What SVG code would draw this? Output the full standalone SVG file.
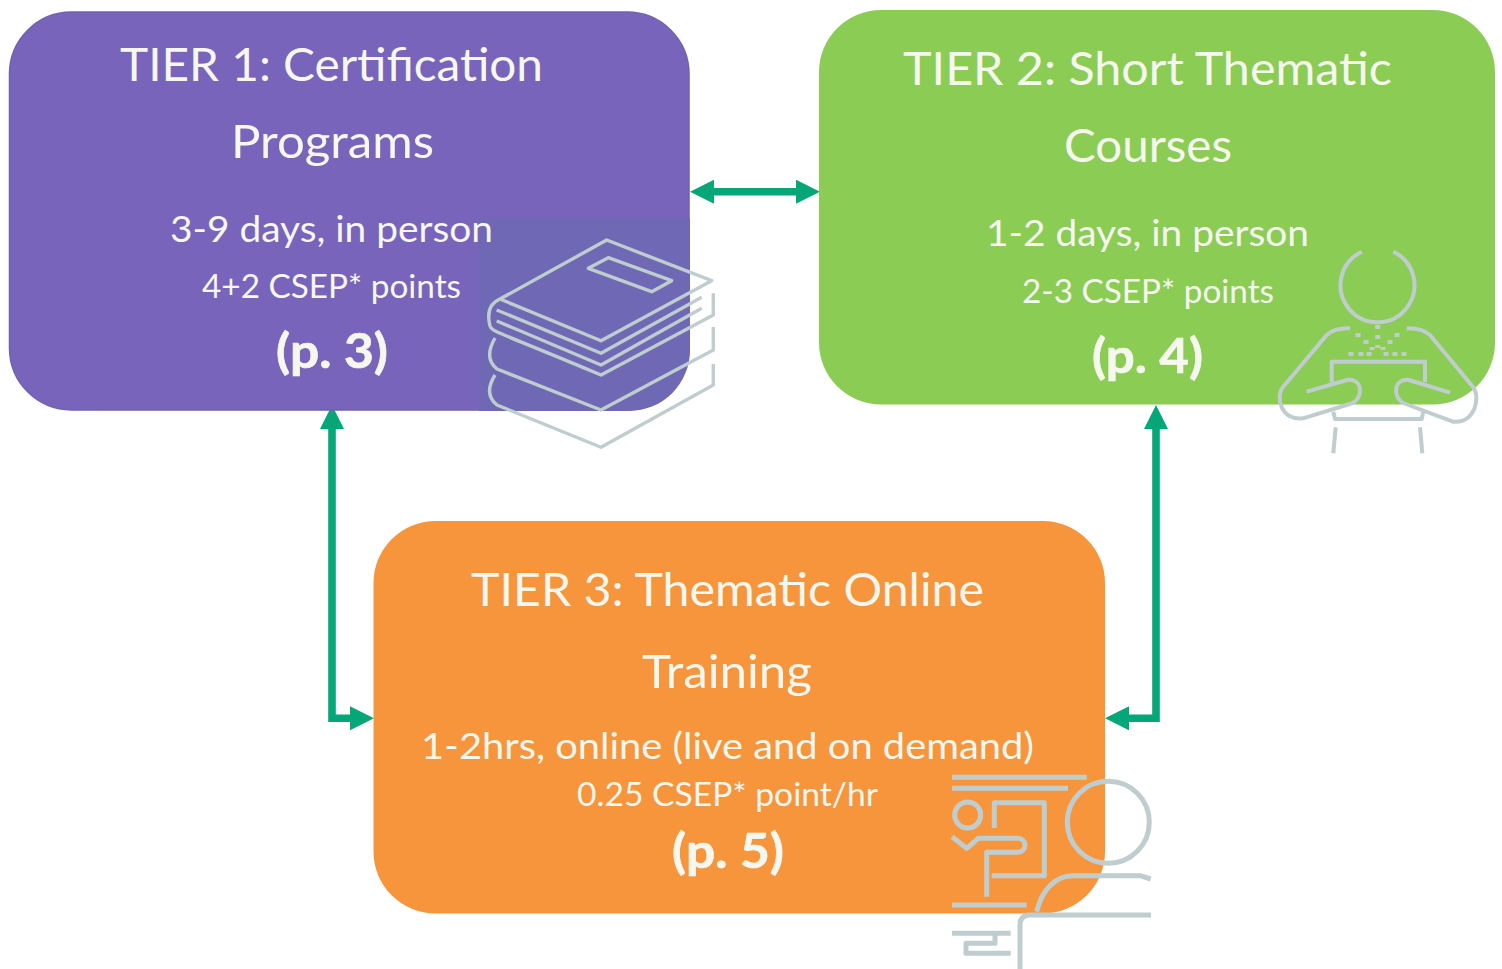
<svg xmlns="http://www.w3.org/2000/svg" width="1502" height="969" viewBox="0 0 1502 969">
<style>
text{font-family:"Lato","Carlito","Open Sans",sans-serif;fill:#F6F7EE}
.t{font-size:47px}.s{font-size:37px}.p{font-size:33px}.b{font-size:48px;font-weight:700;stroke:#F6F7EE;stroke-width:.7px}
.ic{fill:none;stroke:#C0CDCE;stroke-linejoin:round;stroke-linecap:butt}
.c{fill:none;stroke:#05A677;stroke-width:7.6}
</style>
<defs>
<marker id="ah" markerUnits="userSpaceOnUse" markerWidth="24" markerHeight="24" refX="0" refY="12" orient="auto-start-reverse" viewBox="0 0 24 24"><path d="M0 0L24 12L0 24Z" fill="#05A677"/></marker>
</defs>
<g id="connectors">
<path class="c" d="M714 191.700H796" marker-start="url(#ah)" marker-end="url(#ah)"/>
<path class="c" d="M332 429V718.300H350" marker-start="url(#ah)" marker-end="url(#ah)"/>
<path class="c" d="M1156 429V718.300H1129" marker-start="url(#ah)" marker-end="url(#ah)"/>
</g>
<g id="tier1">
<rect x="9.500" y="12" width="679.500" height="398" rx="62" fill="#7864BB" stroke="#7060B0" stroke-width="1.500"/>
<path d="M479 218H690V350A61 61 0 0 1 629 411H479Z" fill="#6F68B5"/>
<g class="ic" stroke-width="3.400">
<path d="M606.700 240L711.700 280.700L601 340.700L500 299Z"/>
<path d="M588.300 268.300L608.300 257.700L671.700 280.700L651.700 291.700Z"/>
<path d="M496.700 310L601 353.300L701.700 297.300M496.700 321L601 365L701.700 308.300"/>
<path d="M500 299C486 305 488 318 490 326C492 332 496 331 601 375L713.300 315V293.300"/>
<path d="M495 338C487 352 488 362 497 369L601 410L713.300 350V327"/>
<path d="M495 375C487 388 488 398 497 405L601 447.300L713.300 385V364"/>
</g>
<text class="t" x="120" y="81" textLength="423" lengthAdjust="spacingAndGlyphs">TIER 1: Certification</text>
<text class="t" x="231" y="158" textLength="203" lengthAdjust="spacingAndGlyphs">Programs</text>
<text class="s" x="170" y="242" textLength="323" lengthAdjust="spacingAndGlyphs">3-9 days, in person</text>
<text class="p" x="202" y="298" textLength="259" lengthAdjust="spacingAndGlyphs">4+2 CSEP* points</text>
<text class="b" x="276" y="368" textLength="112" lengthAdjust="spacingAndGlyphs">(p. 3)</text>
</g>
<g id="tier2">
<rect x="819" y="10" width="676" height="394.500" rx="62" fill="#8BCC55"/>
<g class="ic" stroke-width="4">
<path d="M1361.700 251.700A37 37 0 1 0 1393.300 251.700"/>
<path d="M1350 328.300C1340 328 1332 330 1326.700 335L1283 387C1275 397 1281 421 1303 418.300L1353 403C1364 396 1362 378 1347 380L1306.700 391.700"/>
<path d="M1406.700 328.300C1416 328 1424 330 1430 335L1473 387C1481 397 1475 424 1453 421.700L1403 403C1392 396 1394 378 1409 380L1450 392.700"/>
<path d="M1330 361.700H1426.700M1331.700 361.700V382M1425 361.700V382"/>
<path d="M1333.300 411.700L1335 419H1421.700L1423.300 411.700"/>
<path d="M1335.700 427.300L1333.300 453.300M1420 427.300L1422.300 453.300"/>
<path stroke-width="5" d="M1377.700 325V329M1358 333V337M1377.700 335V339M1397 333V337M1366 340V344M1390 340V344M1372 347V350M1377.700 345V348M1383 347V350M1351 352V356M1361 352V356M1369 352V356M1386 352V356M1395 352V356M1404 352V356"/>
</g>
<text class="t" x="903" y="85" textLength="489" lengthAdjust="spacingAndGlyphs">TIER 2: Short Thematic</text>
<text class="t" x="1064" y="162" textLength="168" lengthAdjust="spacingAndGlyphs">Courses</text>
<text class="s" x="986" y="246" textLength="323" lengthAdjust="spacingAndGlyphs">1-2 days, in person</text>
<text class="p" x="1022" y="303" textLength="252" lengthAdjust="spacingAndGlyphs">2-3 CSEP* points</text>
<text class="b" x="1092" y="373" textLength="111" lengthAdjust="spacingAndGlyphs">(p. 4)</text>
</g>
<g id="tier3">
<rect x="373.500" y="521" width="731.500" height="392.500" rx="62" fill="#F7953C"/>
<g class="ic" stroke-width="5">
<path d="M952 777.300H1086.700M952 788.300H1068M952 905H1026.700"/>
<circle cx="967.700" cy="815" r="13"/>
<path d="M994.300 828V802.700H1044.300V875.700H991.700"/>
<path d="M952 836.700L966.700 848.300L978.300 838.300H1018A7 7 0 0 1 1018 852.300H986.700V896.700"/>
<circle cx="1108.300" cy="822.300" r="41"/>
<path d="M1036.700 911.700C1042 890 1055 875.700 1073 875.700H1140L1150.700 879"/>
<path d="M1151 915H1030Q1020 915 1020 925V969"/>
<path d="M952 933.300H1010.700M995 933.300V943.300H966V953.300H1010.700"/>
</g>
<text class="t" x="471" y="606" textLength="513" lengthAdjust="spacingAndGlyphs">TIER 3: Thematic Online</text>
<text class="t" x="642" y="688" textLength="170" lengthAdjust="spacingAndGlyphs">Training</text>
<text class="s" x="421" y="759" textLength="613" lengthAdjust="spacingAndGlyphs">1-2hrs, online (live and on demand)</text>
<text class="p" x="577" y="806" textLength="301" lengthAdjust="spacingAndGlyphs">0.25 CSEP* point/hr</text>
<text class="b" x="672" y="868" textLength="112" lengthAdjust="spacingAndGlyphs">(p. 5)</text>
</g>
</svg>
